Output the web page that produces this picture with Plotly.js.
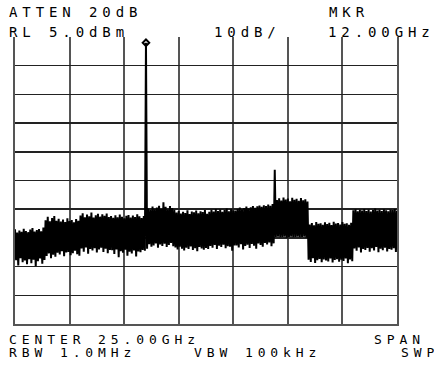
<!DOCTYPE html>
<html><head><meta charset="utf-8">
<script src="https://cdn.plot.ly/plotly-3.0.1.min.js"></script>
<style>
html,body{margin:0;padding:0;background:#fff;}
#chart{width:434px;height:366px;}
.annotation-text{letter-spacing:4.9px;}
</style></head><body><div id="chart"></div>
<script>
// Sweep definition (frequency of trace point i = startGHz + i*stepGHz)
const startGHz = 0.0;
const stepGHz = 0.1;
// Trace levels in dBm (0.0 .. 35.0 GHz)
const levelDbm = [
 -62.0,-72.8,-63.1,-74.6,-62.4,-72.1,-62.9,-73.5,-61.8,-72.9,-62.6,-74.2,-63.0,-72.4,-62.1,-73.8,-61.6,-72.6,-62.8,-74.9,-62.3,-73.1,-61.9,-72.2,-62.7,-74.0,-61.4,-72.7,
 -58.9,-71.3,-57.6,-70.4,-59.2,-72.1,-58.1,-70.9,-57.4,-71.6,-59.0,-70.2,-58.3,
 -70.8,-59.3,-69.6,-58.6,-71.4,-59.5,-70.1,-58.2,-69.9,-59.1,-71.0,-58.8,-70.3,-59.6,-69.5,-58.4,-70.7,-59.0,-71.2,
 -57.2,-68.7,-56.4,-69.8,-57.8,-68.3,-56.9,-70.5,-57.5,-68.9,-56.2,-69.4,-57.9,-68.6,-57.1,-70.1,-56.6,-69.0,-57.6,-68.4,-56.8,-69.9,-57.3,-68.8,-56.5,-70.3,-57.7,-69.2,
 -57.4,-69.3,-58.0,-70.6,-57.1,-69.0,-57.8,-71.7,-56.9,-69.6,-57.6,-70.2,-58.2,-69.1,-57.3,-71.2,-57.0,-69.8,-57.9,-70.4,-57.2,-69.4,-57.7,-71.5,-56.8,-69.7,-57.5,-70.0,-58.1,-69.2,-57.4,
 -69.5,3.0,-68.8,
 -54.8,-67.2,-55.3,-68.1,-54.1,-67.6,-55.0,-66.9,-54.4,-68.4,-53.8,-67.3,-54.9,-67.8,-52.6,-67.0,-54.2,-68.2,-55.1,-67.5,-53.9,-66.8,-54.6,-67.9,-55.2,
 -68.3,-56.2,-69.0,-55.6,-68.1,-56.5,-68.8,-55.9,-69.4,-56.3,-68.4,-55.4,-68.9,-56.7,-68.0,-55.8,-69.2,-56.1,-68.6,-55.5,-69.6,-56.4,-68.2,-55.7,-68.7,-56.0,-69.1,-55.3,-68.5,-56.6,-68.9,-55.9,
 -67.8,-55.2,-68.4,-55.8,-67.5,-54.9,-68.9,-55.6,-67.7,-55.1,-68.2,-55.9,-67.4,-55.3,-68.6,-54.8,-67.9,-55.7,-68.1,-55.0,-69.5,-55.4,-67.6,-55.5,
 -67.6,-54.9,-68.3,-54.4,-67.2,-55.0,-69.0,-54.6,-67.8,-54.1,-67.4,-54.8,-68.5,-54.3,-67.1,-53.9,-67.7,-54.5,-68.8,-54.0,-66.9,-53.7,-67.5,-54.2,-68.1,-53.6,-66.8,-53.9,-67.3,-53.4,-66.6,-53.8,-67.9,-53.2,-66.9,
 -41.3,
 -64.7,-51.8,-64.6,-51.2,-64.8,-52.0,-64.7,-50.9,-64.6,-51.6,-64.9,-51.3,-64.7,-52.2,-64.6,-51.0,-64.8,-51.7,-64.7,-51.4,-64.6,-52.1,-64.8,-51.1,-64.7,-51.9,-64.6,-51.5,-64.9,-52.3,
 -72.6,-60.3,-73.4,-59.8,-72.1,-60.6,-73.7,-59.5,-72.8,-60.1,-72.3,-59.9,-73.5,-60.4,-72.5,-59.6,-72.9,-60.2,-73.2,-59.7,-72.2,-60.5,-73.6,-59.4,-72.7,-60.0,-72.4,-59.8,-73.3,-60.3,-72.6,-59.5,-73.0,-60.1,-72.2,-59.9,-73.8,-60.4,-72.5,-59.7,-73.1,
 -55.4,-68.7,-55.0,-69.5,-55.7,-68.3,-55.2,-70.1,-55.5,-68.9,-54.9,-69.2,-55.6,-68.5,-55.1,-69.8,-55.8,-68.6,-55.3,-69.4,-54.8,-68.2,-55.5,-70.0,-55.2,-68.8,-55.6,-69.3,-55.0,-68.4,-55.4,-69.7,-55.7,-68.9,-55.1,-69.1,-55.3,-68.6,-54.9,-69.9,-55.5
];
const markerFreqGHz = [12.0];
const markerLevelDbm = [3.0];
const xGridGHz = [5, 10, 15, 20, 25, 30];
const yGridDbm = [-85, -75, -65, -55, -45, -35, -25, -15, -5];
const xRangeGHz = [0, 35];
const yRangeDbm = [-95, 5];
const topLabels = ["ATTEN 20dB", "MKR", "RL 5.0dBm", "10dB/", "12.00GHz"];
const bottomLabels = ["CENTER 25.00GHz", "SPAN", "RBW 1.0MHz", "VBW 100kHz", "SWP"];

const freqGHz = levelDbm.map((_, i) => +(startGHz + i * stepGHz).toFixed(2));

// layout geometry (pixels)
const W = 434, H = 366, L = 15, R = 397, T = 37, B = 324;
const px = x => (x - L) / (R - L);
const py = y => (B - y) / (B - T);
const topPos = [[8, 12.3], [328, 12.3], [8, 32], [213, 32], [327, 32]];
const botPos = [[8, 339.5], [373, 339.5], [8, 352.5], [193, 352.5], [400, 352.5]];
const monoTop = {family: "DejaVu Sans Mono", size: 14, color: "#000"};
const monoBot = {family: "DejaVu Sans Mono", size: 13, color: "#000"};
const annotations = [];
topLabels.forEach((t, i) => annotations.push({text: t, xref: "paper", yref: "paper",
  x: px(topPos[i][0]), y: py(topPos[i][1]), xanchor: "left", yanchor: "middle",
  showarrow: false, font: monoTop, borderpad: 0}));
bottomLabels.forEach((t, i) => annotations.push({text: t, xref: "paper", yref: "paper",
  x: px(botPos[i][0]), y: py(botPos[i][1]), xanchor: "left", yanchor: "middle",
  showarrow: false, font: monoBot, borderpad: 0}));

const data = [
  {x: freqGHz, y: levelDbm, type: "scatter", mode: "lines",
   line: {color: "#000", width: 2, simplify: false}, hoverinfo: "skip"},
  {x: markerFreqGHz, y: markerLevelDbm, type: "scatter", mode: "markers",
   marker: {symbol: "diamond-open", size: 5, color: "#000", line: {width: 2, color: "#000"}}}
];
const layout = {
  width: W, height: H, margin: {l: L, r: W - R, t: T, b: H - B, pad: 0},
  paper_bgcolor: "#fff", plot_bgcolor: "#fff", showlegend: false,
  xaxis: {range: xRangeGHz, tickmode: "array", tickvals: xGridGHz, showticklabels: false, ticks: "",
          showgrid: true, gridcolor: "#555", gridwidth: 2, zeroline: false,
          showline: true, linecolor: "#555", linewidth: 2, mirror: false, fixedrange: true},
  yaxis: {range: yRangeDbm, tickmode: "array", tickvals: yGridDbm, showticklabels: false, ticks: "",
          showgrid: true, gridcolor: "#222", gridwidth: 1.5, zeroline: false,
          showline: true, linecolor: "#555", linewidth: 2, mirror: true, fixedrange: true},
  annotations: annotations
};
Plotly.newPlot("chart", data, layout, {displayModeBar: false, staticPlot: true});
</script></body></html>
